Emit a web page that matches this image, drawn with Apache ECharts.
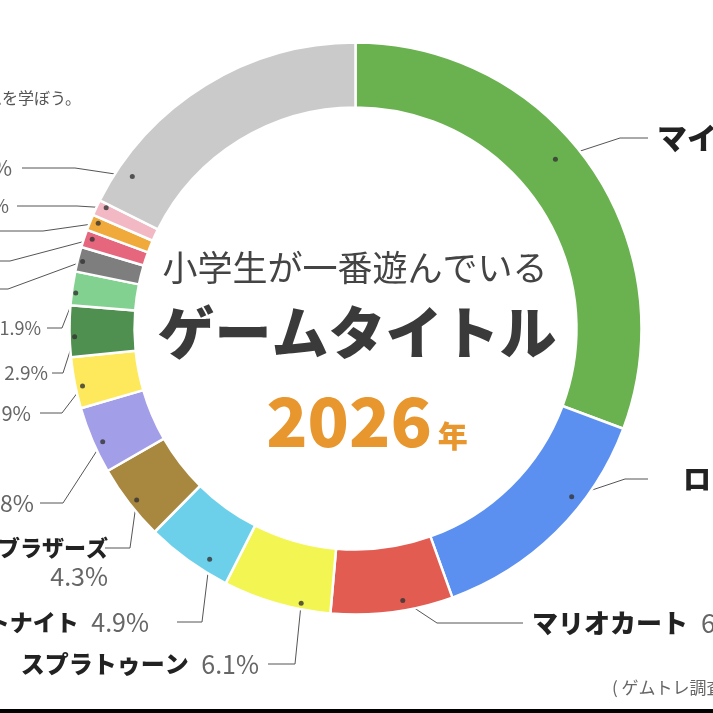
<!DOCTYPE html>
<html><head><meta charset="utf-8">
<script src="https://cdn.jsdelivr.net/npm/echarts@6/dist/echarts.min.js"></script>
<style>html,body{margin:0;padding:0;background:#fff;overflow:hidden}#c{width:713px;height:713px;}</style>
</head><body><div id="c"></div>
<script>
// ---------- data ----------
const names = ['マインクラフト','ロブロックス','マリオカート','スプラトゥーン','フォートナイト','大乱闘スマッシュブラザーズ','ポケモン','どうぶつの森','ブロスタ','にゃんこ大戦争','荒野行動','プロセカ','モンスト','ゼルダの伝説','その他'];
const values = [30.7,13.8,6.9,6.1,4.9,4.3,3.8,2.9,2.9,1.9,1.4,1.0,0.9,0.9,17.6];
const colors = ['#6AB150','#5B90F0','#E25C51','#F3F553','#6DD0EA','#A8873F','#A39EE8','#FDE95B','#4F8F4F','#83D190','#7E7E7E','#E6667E','#F0AA3B','#F2B9C5','#CACACA'];
const titleTop = '小学生が一番遊んでいる';
const titleMain = 'ゲームタイトル';
const titleYear = '2026';
const titleYearSuffix = '年';
const noteText = 'ゲームを学ぼう。';
const sourceText = '( ゲムトレ調査 )';

// ---------- layout / style ----------
const CX = 355.5, CY = 328.5, R_IN = 221, R_OUT = 286;
const FONT = '"Noto Sans CJK JP", "Noto Sans", sans-serif';
// dot anchor inside each slice: [fraction of slice, radius px]
const anchors = [[0.45,262],[0.35,274],[0.40,276],[0.28,280],[0.30,273],[0.47,278],[0.42,277],[0.41,279],[0.39,281],[0.37,282],[0.45,281],[0.6,278],[0.65,278],[0.75,277],[0.12,270]];
// [elbowX, elbowY, lineEndX, textX, align]
const labelPos = [
  [620,138,648,657,'left'],
  [625,479,648,683,'left'],
  [437,623,523,532,'left'],
  [295,664,268,259,'right'],
  [202,622,177,149,'right'],
  [130,548,105,108,'right'],
  [63,503,40,34,'right'],
  [62,413,40,31,'right'],
  [63,373,52,48,'right'],
  [62,328,47,41,'right'],
  [8,289,-20,-30,'right'],
  [10,261,-20,-30,'right'],
  [43,231,-20,-30,'right'],
  [77,206,17,9,'right'],
  [75,168,22,12,'right']
];
const nameSize = [30,28,26,24,23,22,21,20,20,19,19,19,19,19,21];
const pctSize  = [30,28,26,25,25,25,23,20,19,18,19,19,19,19,21];

const total = values.reduce((a,b)=>a+b,0);
const cum = []; values.reduce((acc,v,i)=>{cum[i]=acc; return acc+v;},0);
const anchorVal = values.map((v,i)=>[anchors[i][1], cum[i] + anchors[i][0]*v]);
function anchorPx(i){
  const th = anchorVal[i][1]/total*2*Math.PI, r = anchorVal[i][0];
  return [CX + r*Math.sin(th), CY - r*Math.cos(th)];
}

const rich = {};
values.forEach((v,i)=>{
  rich['n'+i] = {fontSize:nameSize[i], fontWeight:900, color:'#222', fontFamily:FONT, lineHeight:28};
  rich['p'+i] = {fontSize:pctSize[i], fontWeight:'normal', color:'#666', fontFamily:FONT, lineHeight:28};
});

const chart = echarts.init(document.getElementById('c'), null, {renderer:'canvas'});
chart.setOption({
  animation: false,
  backgroundColor: '#fff',
  polar: {center:[CX,CY], radius:[0,R_OUT]},
  angleAxis: {type:'value', min:0, max:total, startAngle:90, clockwise:true, show:false},
  radiusAxis: {type:'value', min:0, max:R_OUT, show:false},
  series: [
    {
      type:'pie', center:[CX,CY], radius:[R_IN,R_OUT], startAngle:90, clockwise:true,
      silent:true, avoidLabelOverlap:false,
      itemStyle:{borderColor:'#fff', borderWidth:2.5},
      data: names.map((n,i)=>({name:n, value:values[i], itemStyle:{color:colors[i]}})),
      label:{
        show:true, position:'outside', width:460, overflow:'none', fontFamily:FONT,
        formatter: p => {
          const i = p.dataIndex, pct = values[i].toFixed(1)+'%';
          return i===5 ? `{n${i}|${names[i]}}\n{p${i}|${pct}}` : `{n${i}|${names[i]}}{p${i}|\u2002${pct}}`;
        },
        rich: rich
      },
      labelLine:{show:true, length:10, length2:10, lineStyle:{color:'#555', width:1}},
      labelLayout: function(p){
        const i = p.dataIndex, L = labelPos[i];
        const a = anchorPx(i);
        const ret = {x:L[3], y:L[1], align:L[4], verticalAlign:'middle',
          labelLinePoints:[a,[L[0],L[1]],[L[2],L[1]]]};
        if (i===5){ ret.verticalAlign='top'; ret.y = L[1]-14; }
        return ret;
      }
    },
    {
      type:'scatter', coordinateSystem:'polar', silent:true, z:10,
      symbol:'circle', symbolSize:5, itemStyle:{color:'#333'},
      data: anchorVal
    }
  ],
  graphic: [
    {type:'text', x:355, y:268, style:{text:titleTop, fontSize:35, fontFamily:FONT, fontWeight:'normal', fill:'#444', align:'center', verticalAlign:'middle'}},
    {type:'text', x:357, y:332, style:{text:titleMain, fontSize:57, fontFamily:FONT, fontWeight:900, fill:'#3a3a3a', align:'center', verticalAlign:'middle'}},
    {type:'text', x:367, y:421, style:{text:`{a|${titleYear}}{b|${titleYearSuffix}}`, align:'center', verticalAlign:'middle',
      rich:{a:{fontSize:68, fontFamily:FONT, fontWeight:900, fill:'#E8962E', lineHeight:72},
            b:{fontSize:30, fontFamily:FONT, fontWeight:900, fill:'#E8962E', lineHeight:72, verticalAlign:'bottom', padding:[0,0,6,6]}}}},
    {type:'text', x:81, y:98, style:{text:noteText, fontSize:16, fontFamily:FONT, fill:'#555', align:'right', verticalAlign:'middle'}},
    {type:'text', x:612, y:688, style:{text:sourceText, fontSize:17, fontFamily:FONT, fill:'#666', align:'left', verticalAlign:'middle'}},
    {type:'rect', shape:{x:0, y:709, width:713, height:4}, style:{fill:'#000'}}
  ]
});
</script>
</body></html>
